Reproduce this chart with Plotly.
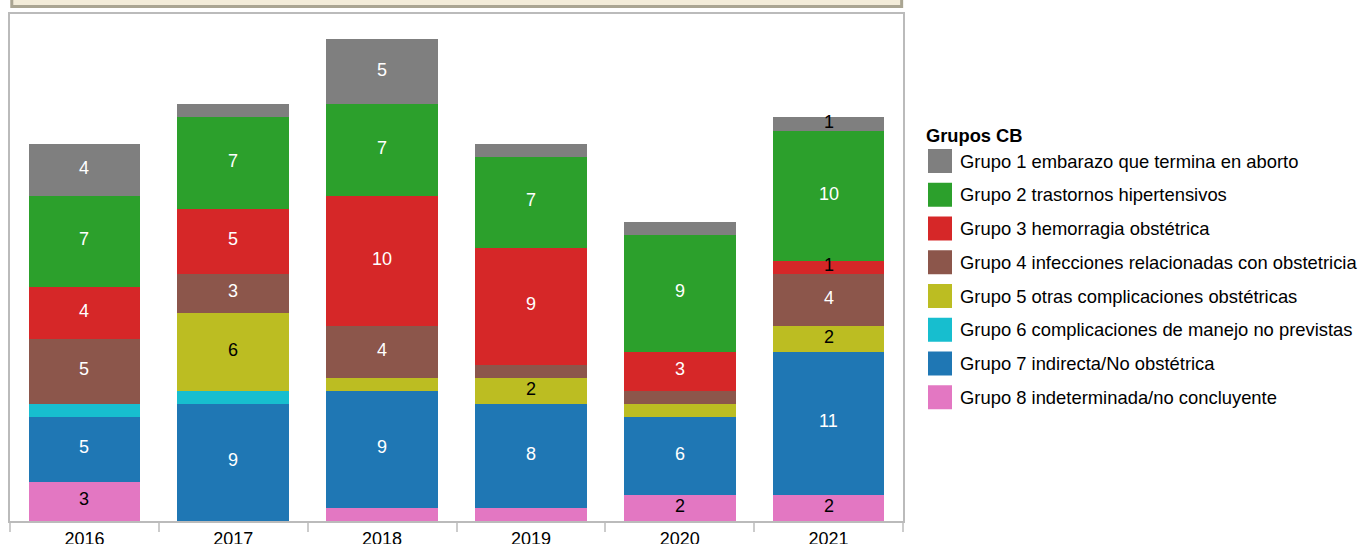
import plotly.graph_objects as go

years = ["2016", "2017", "2018", "2019", "2020", "2021"]

groups = [
    "Grupo 1 embarazo que termina en aborto",
    "Grupo 2 trastornos hipertensivos",
    "Grupo 3 hemorragia obstétrica",
    "Grupo 4 infecciones relacionadas con obstetricia",
    "Grupo 5 otras complicaciones obstétricas",
    "Grupo 6 complicaciones de manejo no previstas",
    "Grupo 7 indirecta/No obstétrica",
    "Grupo 8 indeterminada/no concluyente",
]

g1 = [4, 1, 5, 1, 1, 1]
g2 = [7, 7, 7, 7, 9, 10]
g3 = [4, 5, 10, 9, 3, 1]
g4 = [5, 3, 4, 1, 1, 4]
g5 = [0, 6, 1, 2, 1, 2]
g6 = [1, 1, 0, 0, 0, 0]
g7 = [5, 9, 9, 8, 6, 11]
g8 = [3, 0, 1, 1, 2, 2]

values = [g1, g2, g3, g4, g5, g6, g7, g8]

colors = ["#7f7f7f", "#2ca02c", "#d62728", "#8c564b",
          "#bcbd22", "#17becf", "#1f77b4", "#e377c2"]
label_colors = ["white", "white", "white", "white", "black", "black", "white", "black"]

# extra labels for small segments that are labelled in the original
extra_labels = {("2021", 0), ("2021", 2)}

FONT = "Liberation Sans, Arial, sans-serif"

fig = go.Figure()
# stack from bottom: group 8 first
for gi in range(7, -1, -1):
    fig.add_trace(go.Bar(
        x=years, y=values[gi], name=groups[gi],
        marker=dict(color=colors[gi], line=dict(width=0)),
        showlegend=False, hoverinfo="x+y+name",
    ))

annotations = []
# segment labels (x given as category index)
for yi, yr in enumerate(years):
    base = 0
    for gi in range(7, -1, -1):
        v = values[gi][yi]
        if v > 0:
            mid = base + v / 2
            if v >= 2 or (yr, gi) in extra_labels:
                col = label_colors[gi] if v >= 2 else "black"
                annotations.append(dict(
                    x=yi, y=mid, xref="x", yref="y", text=str(v),
                    showarrow=False, font=dict(family=FONT, size=18, color=col),
                    xanchor="center", yanchor="middle", yshift=2,
                ))
        base += v

# custom legend
plot_h = 521 - 14
def py_to_paper(py):
    return (521 - py) / plot_h

shapes = []
annotations.append(dict(
    x=1, y=py_to_paper(135), xref="paper", yref="paper", xshift=21,
    text="<b>Grupos CB</b>", showarrow=False, xanchor="left", yanchor="middle",
    font=dict(family=FONT, size=18.3, color="black"),
))
for k, (name, col) in enumerate(zip(groups, colors)):
    cy = 161 + k * 33.75
    yp = py_to_paper(cy)
    shapes.append(dict(
        type="rect", xref="paper", yref="paper",
        xsizemode="pixel", ysizemode="pixel", xanchor=1, yanchor=yp,
        x0=25, x1=49, y0=-12, y1=12,
        fillcolor=col, line=dict(width=0),
    ))
    annotations.append(dict(
        x=1, y=yp, xref="paper", yref="paper", xshift=55,
        text=name, showarrow=False, xanchor="left", yanchor="middle",
        font=dict(family=FONT, size=18.4, color="black"),
    ))

# top tan panel (cut off)
shapes.append(dict(
    type="rect", xref="paper", yref="paper",
    ysizemode="pixel", yanchor=1,
    x0=0.002, x1=0.9985, y0=7.5, y1=30,
    fillcolor="#f3ecd9", line=dict(color="#aaa592", width=3),
))

fig.update_layout(
    width=1359, height=544,
    margin=dict(l=10, r=456, t=14, b=23, autoexpand=False),
    barmode="stack", bargap=0.25,
    plot_bgcolor="white", paper_bgcolor="white",
    font=dict(family=FONT, size=18, color="black"),
    xaxis=dict(
        type="category", range=[-0.5, 5.5], showline=True, linecolor="#bbbbbb",
        linewidth=2, mirror=True, ticks="outside", tickson="boundaries",
        ticklen=9, tickwidth=2, tickcolor="#cccccc", showgrid=False,
        tickangle=0, fixedrange=True, automargin=False,
        tickfont=dict(family=FONT, size=18, color="black"),
    ),
    yaxis=dict(
        range=[0, 38.95], showline=True, linecolor="#bbbbbb", linewidth=2,
        mirror=True, showgrid=False, showticklabels=False, ticks="",
        zeroline=False, fixedrange=True, automargin=False,
    ),
    shapes=shapes,
    annotations=annotations,
    showlegend=False,
)

fig.write_html(
    "out.html",
    config={"displayModeBar": False},
    post_script="document.body.style.margin='0';document.body.style.overflow='hidden';",
)
